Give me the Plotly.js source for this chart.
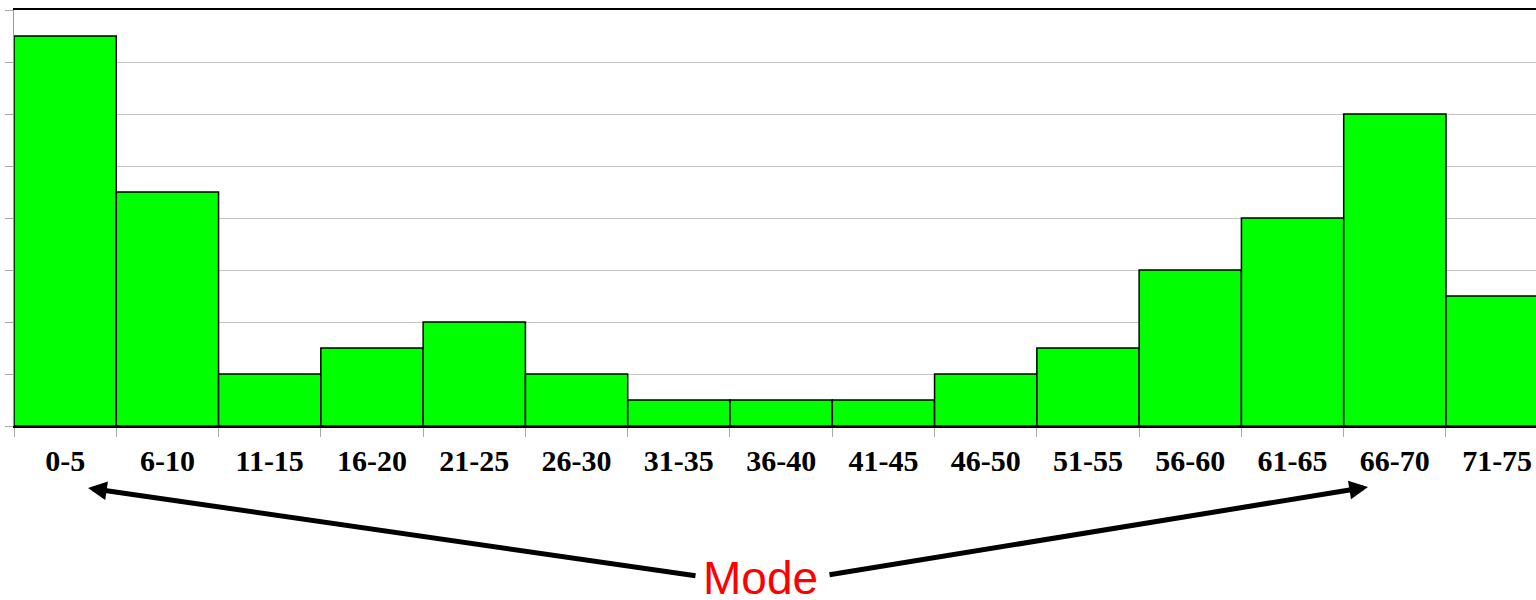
<!DOCTYPE html>
<html>
<head>
<meta charset="utf-8">
<script src="https://cdn.plot.ly/plotly-3.0.1.min.js"></script>
<style>
html,body{margin:0;padding:0;background:#fff;}
#chart{width:1536px;height:600px;}
</style>
</head>
<body>
<div id="chart"></div>
<script>
// Data
const categories = ["0-5","6-10","11-15","16-20","21-25","26-30","31-35","36-40","41-45","46-50","51-55","56-60","61-65","66-70","71-75"];
const counts = [15, 9, 2, 3, 4, 2, 1, 1, 1, 2, 3, 6, 8, 12, 5];
const annotationLabel = "Mode";

const trace = {
  type: "bar",
  x: categories,
  y: counts,
  marker: {color: "#00ff00", line: {color: "#000000", width: 1.5}},
  hoverinfo: "x+y"
};

const layout = {
  width: 1536,
  height: 600,
  margin: {l: 14, r: 0, t: 10, b: 174, pad: 0},
  paper_bgcolor: "#ffffff",
  plot_bgcolor: "#ffffff",
  bargap: 0,
  showlegend: false,
  xaxis: {
    type: "category",
    range: [-0.5, 14.38],
    showline: true,
    linecolor: "#000000",
    linewidth: 2,
    mirror: true,
    ticks: "outside",
    tickson: "boundaries",
    ticklen: 9,
    tickcolor: "#aaaaaa",
    tickwidth: 1,
    ticklabelstandoff: 7,
    showgrid: false,
    zeroline: false,
    tickfont: {family: "Liberation Serif, Times New Roman, serif", size: 30, color: "#000000", weight: "bold"},
    fixedrange: true
  },
  yaxis: {
    range: [0, 16],
    dtick: 2,
    showticklabels: false,
    ticks: "outside",
    ticklen: 8,
    tickcolor: "#aaaaaa",
    showline: true,
    linecolor: "#999999",
    linewidth: 1,
    showgrid: true,
    gridcolor: "#c4c4c4",
    gridwidth: 1,
    zeroline: false,
    fixedrange: true
  },
  annotations: [
    {
      xref: "paper", yref: "paper",
      x: (88 - 14) / 1522, y: (426 - 488) / 416,
      ax: 609, ay: 88,
      text: "",
      showarrow: true,
      arrowhead: 2, arrowsize: 0.75, arrowwidth: 5, arrowcolor: "#000000",
      standoff: 0, startstandoff: 0
    },
    {
      xref: "paper", yref: "paper",
      x: (1368 - 14) / 1522, y: (426 - 487) / 416,
      ax: -540, ay: 88,
      text: "",
      showarrow: true,
      arrowhead: 2, arrowsize: 0.75, arrowwidth: 5, arrowcolor: "#000000",
      standoff: 0, startstandoff: 0
    },
    {
      xref: "paper", yref: "paper",
      x: (760 - 14) / 1522, y: (426 - 578) / 416,
      xanchor: "center", yanchor: "middle",
      text: annotationLabel,
      showarrow: false,
      font: {family: "Liberation Sans, Arial, sans-serif", size: 46, color: "#ff0000"}
    }
  ]
};

Plotly.newPlot("chart", [trace], layout, {displayModeBar: false, staticPlot: true});
</script>
</body>
</html>
